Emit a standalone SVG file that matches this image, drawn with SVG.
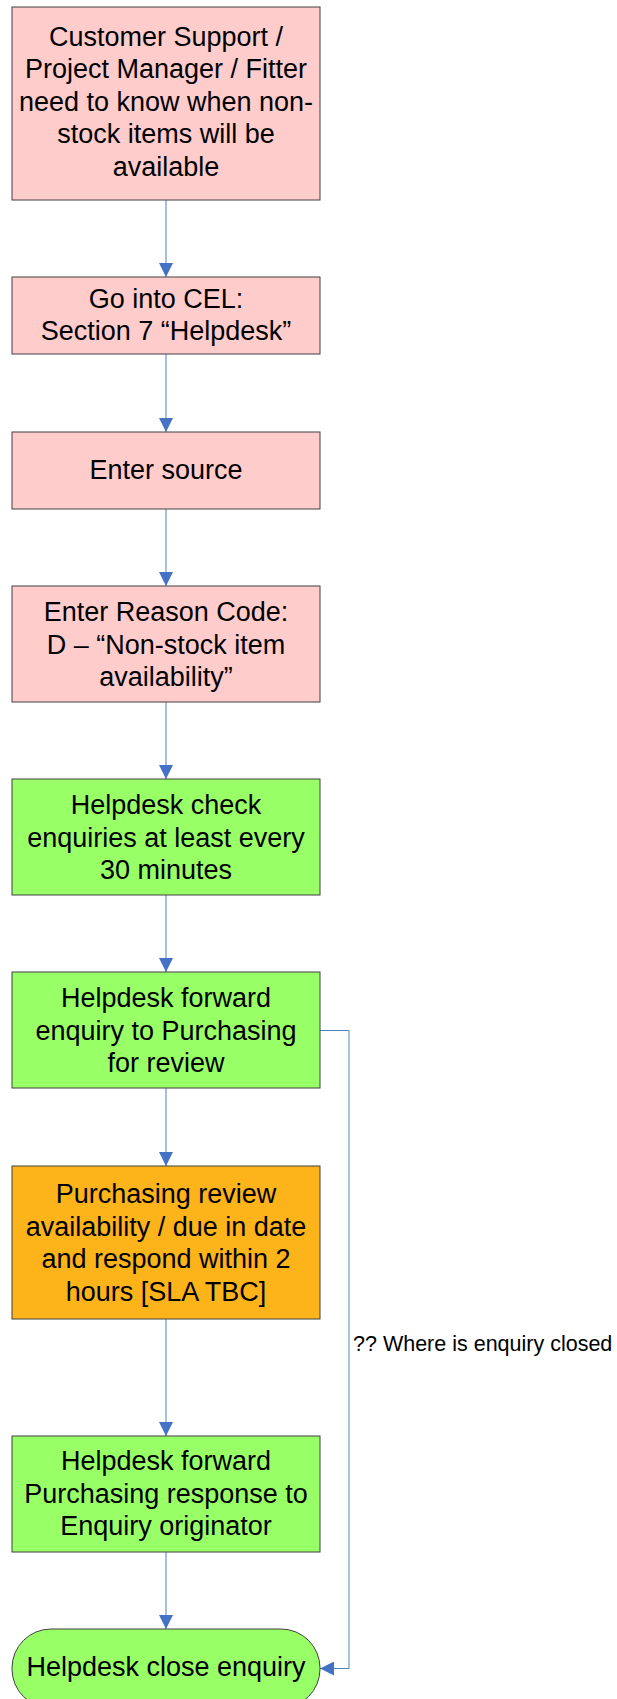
<svg xmlns="http://www.w3.org/2000/svg" width="617" height="1699" viewBox="0 0 617 1699">
<defs>
<style>
.box{stroke:#404040;stroke-width:1}
.pink{fill:#FFCCCC}
.green{fill:#99FF66}
.orange{fill:#FDB31A}
.t{font-family:"Liberation Sans",Arial,sans-serif;font-size:27px;fill:#000;text-anchor:middle}
.note{font-family:"Liberation Sans",Arial,sans-serif;font-size:21.5px;fill:#000}
.c{fill:none;stroke:#4F81BD;stroke-width:1}
</style>
<marker id="ah" markerUnits="userSpaceOnUse" markerWidth="14" markerHeight="14" viewBox="0 0 14 14" refX="14" refY="7" orient="auto">
<path d="M0,0 L14,7 L0,14 Z" fill="#4472C4"/>
</marker>
</defs>
<g id="connectors">
<line class="c" x1="166" y1="200" x2="166" y2="277" marker-end="url(#ah)"/>
<line class="c" x1="166" y1="354" x2="166" y2="432" marker-end="url(#ah)"/>
<line class="c" x1="166" y1="509" x2="166" y2="586" marker-end="url(#ah)"/>
<line class="c" x1="166" y1="702" x2="166" y2="779" marker-end="url(#ah)"/>
<line class="c" x1="166" y1="895" x2="166" y2="972" marker-end="url(#ah)"/>
<line class="c" x1="166" y1="1088" x2="166" y2="1166" marker-end="url(#ah)"/>
<line class="c" x1="166" y1="1319" x2="166" y2="1436" marker-end="url(#ah)"/>
<line class="c" x1="166" y1="1552" x2="166" y2="1629" marker-end="url(#ah)"/>
<polyline class="c" points="320,1030.5 349,1030.5 349,1668.5 320,1668.5" marker-end="url(#ah)"/>
<text class="note" x="353" y="1351">?? Where is enquiry closed</text>
</g>
<g id="n1">
<rect class="box pink" x="12" y="7" width="308" height="193"/>
<text class="t" x="166" y="45.5">Customer Support /</text>
<text class="t" x="166" y="78">Project Manager / Fitter</text>
<text class="t" x="166" y="110.5">need to know when non-</text>
<text class="t" x="166" y="143">stock items will be</text>
<text class="t" x="166" y="175.5">available</text>
</g>
<g id="n2">
<rect class="box pink" x="12" y="277" width="308" height="77"/>
<text class="t" x="166" y="308">Go into CEL:</text>
<text class="t" x="166" y="340">Section 7 “Helpdesk”</text>
</g>
<g id="n3">
<rect class="box pink" x="12" y="432" width="308" height="77"/>
<text class="t" x="166" y="479">Enter source</text>
</g>
<g id="n4">
<rect class="box pink" x="12" y="586" width="308" height="116"/>
<text class="t" x="166" y="621">Enter Reason Code:</text>
<text class="t" x="166" y="653.5">D – “Non-stock item</text>
<text class="t" x="166" y="686">availability”</text>
</g>
<g id="n5">
<rect class="box green" x="12" y="779" width="308" height="116"/>
<text class="t" x="166" y="814">Helpdesk check</text>
<text class="t" x="166" y="846.5">enquiries at least every</text>
<text class="t" x="166" y="879">30 minutes</text>
</g>
<g id="n6">
<rect class="box green" x="12" y="972" width="308" height="116"/>
<text class="t" x="166" y="1007">Helpdesk forward</text>
<text class="t" x="166" y="1039.5">enquiry to Purchasing</text>
<text class="t" x="166" y="1072">for review</text>
</g>
<g id="n7">
<rect class="box orange" x="12" y="1166" width="308" height="153"/>
<text class="t" x="166" y="1203">Purchasing review</text>
<text class="t" x="166" y="1235.5">availability / due in date</text>
<text class="t" x="166" y="1268">and respond within 2</text>
<text class="t" x="166" y="1300.5">hours [SLA TBC]</text>
</g>
<g id="n8">
<rect class="box green" x="12" y="1436" width="308" height="116"/>
<text class="t" x="166" y="1470">Helpdesk forward</text>
<text class="t" x="166" y="1502.5">Purchasing response to</text>
<text class="t" x="166" y="1535">Enquiry originator</text>
</g>
<g id="n9">
<rect class="box green" x="12" y="1629" width="308" height="79" rx="39" ry="39"/>
<text class="t" x="166" y="1676">Helpdesk close enquiry</text>
</g>
</svg>
